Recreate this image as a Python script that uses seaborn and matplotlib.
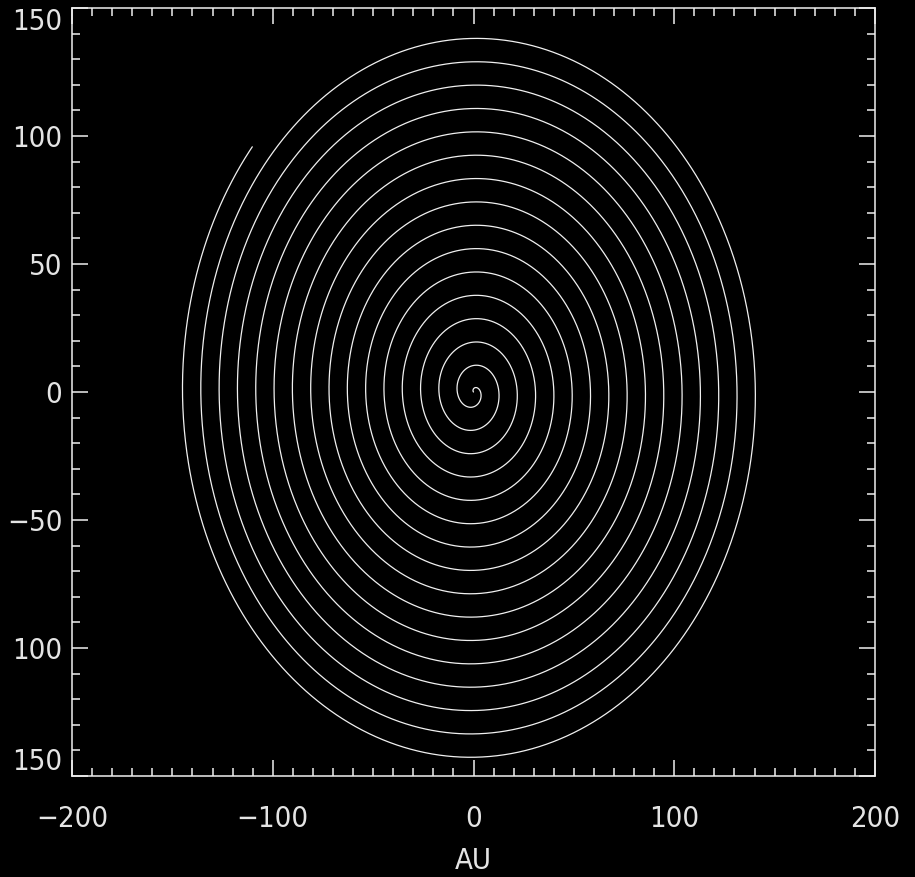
import numpy as np
import pandas as pd
import matplotlib
matplotlib.use("Agg")
import matplotlib.pyplot as plt
from matplotlib.ticker import MultipleLocator
import seaborn as sns

# Archimedean (Parker-type) spiral: r grows by a fixed step per turn, winding clockwise
spiral_turns = 16
spiral_outer_radius_au = 146.0
spiral_end_angle_deg = 139.0

x_ticks = [-200, -100, 0, 100, 200]
x_tick_labels = ["\u2212200", "\u2212100", "0", "100", "200"]
y_ticks = [-150, -100, -50, 0, 50, 100, 150]
y_tick_labels = ["150", "100", "\u221250", "0", "50", "100", "150"]
x_label = "AU"

# parametrise the curve from the centre outwards
t = np.linspace(0.0, 1.0, 20000)
r = spiral_outer_radius_au * t
phi = np.deg2rad(spiral_end_angle_deg) + 2 * np.pi * spiral_turns * (1 - t)
spiral = pd.DataFrame({"x": r * np.cos(phi), "y": r * np.sin(phi)})

sns.set_theme(style="dark")
plt.rcParams["font.family"] = ["DejaVu Sans"]
plt.rcParams["font.stretch"] = "condensed"
plt.rcParams["font.weight"] = "light"

fg = "#f0f0f0"
txt = "#e4e4e4"
fig = plt.figure(figsize=(9.15, 8.77), dpi=100, facecolor="black")
ax = fig.add_axes([72 / 915, 1 - 776 / 877, 803 / 915, 768 / 877])
ax.set_facecolor("black")

sns.lineplot(data=spiral, x="x", y="y", sort=False, estimator=None,
             color=fg, linewidth=0.9, ax=ax)

ax.set_xlim(-200, 200)
ax.set_ylim(-150, 150)
ax.grid(False)

for s in ax.spines.values():
    s.set_color(fg)
    s.set_linewidth(1.1)
    s.set_visible(True)

ax.set_xticks(x_ticks)
ax.set_xticklabels(x_tick_labels)
ax.set_yticks(y_ticks)
ax.set_yticklabels(y_tick_labels)
ax.xaxis.set_minor_locator(MultipleLocator(10))
ax.yaxis.set_minor_locator(MultipleLocator(10))

ax.tick_params(axis="both", which="both", direction="in", colors=fg,
               labelcolor=txt, top=True, right=True, bottom=True, left=True)
ax.tick_params(axis="both", which="major", length=11.5, width=1.1, labelsize=21)
ax.tick_params(axis="both", which="minor", length=5.8, width=1.1)
ax.tick_params(axis="x", which="major", pad=21)
ax.tick_params(axis="y", which="major", pad=7)

ylabels = ax.get_yticklabels()
ylabels[0].set_va("bottom")
ylabels[-1].set_va("top")

ax.set_xlabel(x_label, color=txt, fontsize=21, labelpad=10)
ax.set_ylabel("")

fig.savefig("out.png", dpi=100, facecolor="black")
